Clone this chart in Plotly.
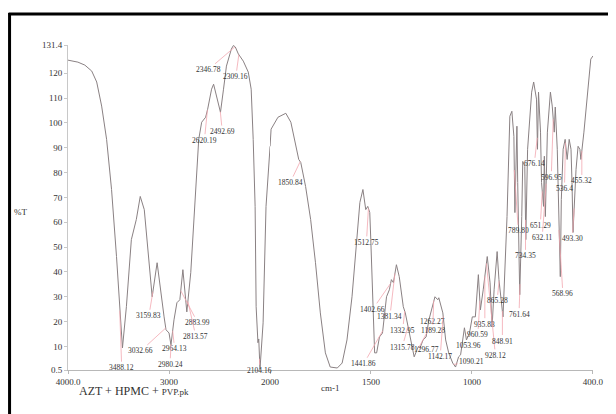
import numpy as np
import plotly.graph_objects as go

# ---- spectrum: wavenumber (cm-1) and %T ----
wavenumber = [4000, 3902, 3833, 3765, 3716, 3667, 3618, 3569, 3520, 3481, 3461, 3422, 3373, 3324,
              3285, 3245, 3216, 3167, 3118, 3079, 3049, 3030, 3000, 2981, 2951, 2922, 2893, 2863,
              2844, 2824, 2785, 2755, 2706, 2677, 2638, 2618, 2579, 2559, 2530, 2491, 2461, 2432,
              2383, 2363, 2344, 2314, 2265, 2216, 2187, 2167, 2148, 2138, 2120, 2112, 2100, 2069,
              2040, 2000,
              1995, 1961, 1922, 1897, 1878, 1858, 1848, 1824, 1799, 1775, 1751, 1726, 1702, 1667,
              1643, 1619, 1594, 1570, 1555, 1540, 1526, 1516, 1506, 1501, 1491, 1482, 1472, 1458,
              1443, 1433, 1423, 1409, 1399, 1389, 1374, 1360, 1350, 1340, 1330, 1315, 1301, 1286,
              1266, 1257, 1242, 1227, 1213, 1193, 1183, 1169, 1164, 1144, 1130, 1115, 1095, 1081,
              1066, 1056, 1037, 1027, 1012, 998, 983, 968, 958, 944, 924, 910, 900, 890, 875, 866,
              856, 846, 826, 812, 802, 792, 787, 777, 773, 763, 753, 748, 738, 733, 724, 704, 694,
              680, 675, 670, 660, 655, 645, 641, 636, 626, 611, 602, 592, 587, 577, 567, 562, 557,
              548, 538, 528, 518, 509, 504, 499, 484, 474, 465, 460, 445, 430, 411, 400]
transmittance = [125.3, 124.5, 123.3, 120.9, 116.5, 106.8, 93.4, 73.2, 46.2, 19.5, 9.4, 26.0, 53.0, 61.1,
                 70.4, 65.1, 53.0, 30.0, 43.7, 30.0, 21.9, 16.7, 15.4, 10.6, 20.7, 27.6, 28.8, 40.9,
                 31.6, 23.9, 39.7, 59.9, 93.4, 100.3, 102.3, 105.5, 113.6, 115.6, 110.8, 104.3, 113.6, 122.9,
                 129.8, 131.2, 130.6, 127.8, 124.9, 120.5, 113.6, 93.4, 66.4, 26.0, 11.5, 13.0, 0.8, 19.5,
                 66.4, 90.6,
                 97.5, 102.3, 103.9, 100.3, 93.4, 85.3, 84.1, 74.4, 61.1, 43.7, 23.5, 7.4, 1.7, 1.3,
                 3.3, 12.6, 30.0, 53.0, 68.0, 73.2, 65.1, 66.4, 63.9, 53.0, 30.0, 7.4, 7.4, 13.8,
                 15.4, 23.5, 30.0, 32.8, 36.9, 35.7, 42.9, 38.1, 31.6, 26.0, 23.5, 17.9, 11.4, 5.8,
                 9.8, 9.4, 12.6, 13.8, 20.7, 27.6, 30.0, 28.8, 29.6, 23.5, 12.6, 7.4, 3.3, 1.7,
                 5.8, 6.6, 17.5, 12.6, 15.4, 21.9, 21.9, 38.9, 24.7, 32.8, 46.2, 35.6, 17.9, 32.8, 48.2, 36.9,
                 30.0, 21.9, 62.3, 102.7, 104.7, 94.6, 63.9, 98.7, 76.0, 30.8, 62.3, 84.5, 82.5, 53.0, 89.4, 112.4, 116.5,
                 109.6, 89.4, 112.4, 96.3, 76.0, 66.4, 86.6, 62.3, 96.3, 112.4, 106.8, 96.3, 106.4, 89.4, 49.0, 38.1, 69.2,
                 89.4, 93.4, 85.3, 93.4, 89.4, 76.0, 55.9, 81.3, 90.6, 89.4, 85.3, 96.3, 109.6, 125.7, 127.0]

# ---- peak labels ----
peak_labels = ["3488.12", "3159.83", "3032.66", "2964.13", "2980.24", "2883.99", "2813.57",
               "2620.19", "2492.69", "2346.78", "2309.16", "2104.16", "1850.84", "1512.75",
               "1441.86", "1402.66", "1381.34", "1332.95", "1315.78", "1296.77", "1262.27",
               "1189.28", "1142.17", "1053.96", "1090.21", "960.59", "935.83", "928.12",
               "848.91", "865.28", "789.80", "761.64", "734.35", "676.14", "651.29", "632.11",
               "596.95", "568.96", "536.4", "493.30", "455.32"]
# label offsets from the marked point (pixels)
label_dx = [2, -4, -25, 2, -1, 17, 8, -3, 2, -27, -3, 0, -10, -2, -19, -18, -5, -2, -6, 14, 14,
            -1, -3, 7, 18, -2, 0, 9, 0, -2, 4, -1, 0, -3, -2, -4, -2, 4, -1, -2, 0]
label_dy = [57, 24, 23, 18, 20, 32, 35, 30, 20, 23, 22, 12, 21, 34, 33, 26, 43, 19, 21, 3, -26,
            30, 40, -6, -3, 34, 48, 92, 30, 20, 61, 30, 36, 26, 34, 54, 58, 64, 46, 30, 30]

y_ticks = [0.5, 10, 20, 30, 40, 50, 60, 70, 80, 90, 100, 110, 120, 131.4]
y_tick_text = ["0.5", "10", "20", "30", "40", "50", "60", "70", "80", "90", "100", "110", "120", "131.4"]
x_ticks_hi = [4000, 3000]
x_ticks_hi_text = ["4000.0", "3000"]
x_ticks_lo = [2000, 1500, 1000, 400]
x_ticks_lo_text = ["2000", "1500", "1000", "400.0"]

wn = np.array(wavenumber, dtype=float)
tr = np.array(transmittance, dtype=float)
hi = wn >= 2000
lo = wn <= 2000

# page is shown with the browser's 8px body margin -> figure starts at page (8, 8)
OFF = 8
W, H = 616 - OFF, 414 - OFF
left, right, top, bottom = 68, 598, 45, 370  # plot area in page pixels
ml, mr, mt, mb = left - OFF, W - (right - OFF), top - OFF, H - (bottom - OFF)
pw = right - left
ph = bottom - top
split = 204 / pw


def px(xp):
    return (xp - left) / pw


def py(yp):
    return (bottom - yp) / ph


SERIF = "Liberation Serif, DejaVu Serif, serif"
line_col = "#8a8183"
txt_col = "#333333"

fig = go.Figure()
fig.add_trace(go.Scatter(x=wn[hi], y=tr[hi], mode="lines", xaxis="x", yaxis="y",
                         line=dict(color=line_col, width=1), showlegend=False, hoverinfo="skip"))
fig.add_trace(go.Scatter(x=wn[lo], y=tr[lo], mode="lines", xaxis="x2", yaxis="y",
                         line=dict(color=line_col, width=1), showlegend=False, hoverinfo="skip"))

order = np.argsort(wn)
annotations = []
for txt, dx, dy in zip(peak_labels, label_dx, label_dy):
    v = float(txt)
    yv = float(np.interp(v, wn[order], tr[order]))
    annotations.append(dict(
        x=v, y=yv, xref="x" if v >= 2000 else "x2", yref="y",
        text=txt, showarrow=True, arrowhead=0, arrowwidth=0.8, arrowcolor="#f2a7b0",
        ax=dx, ay=dy, standoff=0, startstandoff=0,
        font=dict(family=SERIF, size=7.5, color=txt_col)))

annotations += [
    dict(text="%T", x=px(20), y=py(212), xref="paper", yref="paper",
         xanchor="center", yanchor="middle",
         showarrow=False, font=dict(family=SERIF, size=9, color=txt_col)),
    dict(text="cm-1", x=px(333), y=py(388), xref="paper", yref="paper",
         xanchor="center", yanchor="middle",
         showarrow=False, font=dict(family=SERIF, size=9, color=txt_col)),
    dict(text="AZT + HPMC + <span style='font-size:9px'>PVP.pk</span>",
         x=px(135), y=py(391), xref="paper", yref="paper",
         xanchor="center", yanchor="middle",
         showarrow=False, font=dict(family=SERIF, size=12, color="#333333")),
]

axis_common = dict(showgrid=False, zeroline=False, showline=True, linecolor="#b8b8b8",
                   linewidth=1, ticks="outside", ticklen=3, tickcolor="#b8b8b8",
                   tickfont=dict(family=SERIF, size=9, color=txt_col), anchor="y")

fig.update_layout(
    width=W, height=H,
    margin=dict(l=ml, r=mr, t=mt, b=mb, pad=0),
    paper_bgcolor="white", plot_bgcolor="white",
    xaxis=dict(domain=[0, split], range=[4000, 2000], tickvals=x_ticks_hi,
               ticktext=x_ticks_hi_text, **axis_common),
    xaxis2=dict(domain=[split, 1], range=[2000, 400], tickvals=x_ticks_lo,
                ticktext=x_ticks_lo_text, **axis_common),
    yaxis=dict(range=[0.5, 131.4], tickvals=y_ticks, ticktext=y_tick_text,
               showgrid=False, zeroline=False, showline=True, linecolor="#c8c8c8",
               linewidth=1, ticks="outside", ticklen=3, tickcolor="#c8c8c8",
               tickfont=dict(family=SERIF, size=9, color=txt_col), anchor="x"),
    annotations=annotations,
    shapes=[
        dict(type="line", xref="paper", yref="paper",
             x0=px(8), x1=px(640), y0=py(14), y1=py(14),
             line=dict(color="black", width=3)),
        dict(type="line", xref="paper", yref="paper",
             x0=px(9), x1=px(9), y0=py(13), y1=py(430),
             line=dict(color="black", width=3)),
    ],
)

fig.write_html("out.html")
